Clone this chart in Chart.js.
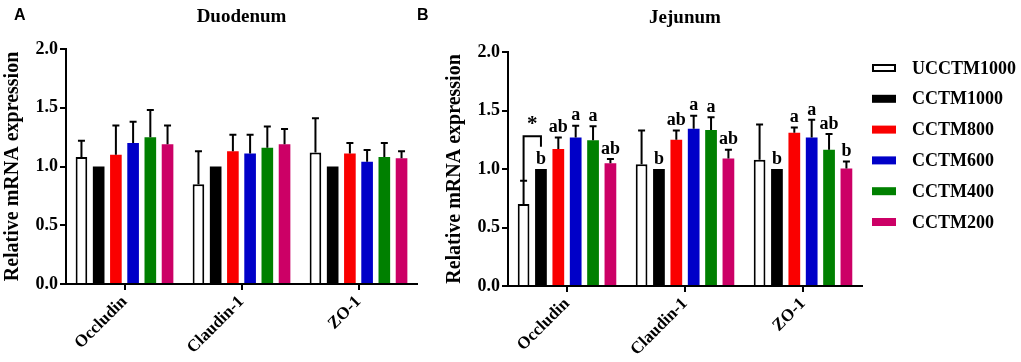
<!DOCTYPE html>
<html>
<head>
<meta charset="utf-8">
<script src="https://cdn.jsdelivr.net/npm/chart.js@4"></script>
<style>
  html, body { margin: 0; padding: 0; background: #fff; }
  #wrap { position: relative; width: 1021px; height: 362px; overflow: hidden; }
  .panel { position: absolute; top: 0; height: 362px; }
  #boxA { left: 0; width: 420px; }
  #boxB { left: 420px; width: 601px; }
  .tag { position: absolute; top: 6px; font: bold 16px "Liberation Sans", Arial, sans-serif; color: #000; }
</style>
</head>
<body>
<div id="wrap">
  <div class="panel" id="boxA"><canvas id="chartA"></canvas></div>
  <div class="panel" id="boxB"><canvas id="chartB"></canvas></div>
  <div class="tag" style="left:14px">A</div>
  <div class="tag" style="left:417px">B</div>
</div>
<script>
// categories and groups
const genes = ['Occludin', 'Claudin-1', 'ZO-1'];
const groups = ['UCCTM1000', 'CCTM1000', 'CCTM800', 'CCTM600', 'CCTM400', 'CCTM200'];
const groupColors = ['#ffffff', '#000000', '#fa0000', '#0000c8', '#008000', '#cc0066'];

// Duodenum: mean per group (rows follow groups, columns follow genes) and SD
const duoMeans = [
    [1.08, 0.85, 1.12],
    [1.00, 1.00, 1.00],
    [1.10, 1.13, 1.11],
    [1.20, 1.11, 1.04],
    [1.25, 1.16, 1.08],
    [1.19, 1.19, 1.07]
];
const duoErrors = [
    [0.14, 0.28, 0.29],
    [0, 0, 0],
    [0.25, 0.14, 0.09],
    [0.18, 0.16, 0.10],
    [0.23, 0.18, 0.12],
    [0.16, 0.13, 0.06]
];

// Jejunum
const jejMeans = [
    [0.70, 1.04, 1.08],
    [1.00, 1.00, 1.00],
    [1.17, 1.25, 1.31],
    [1.27, 1.345, 1.27],
    [1.245, 1.333, 1.165],
    [1.05, 1.09, 1.005]
];
const jejErrors = [
    [0.20, 0.29, 0.30],
    [0, 0, 0],
    [0.10, 0.08, 0.045],
    [0.10, 0.11, 0.15],
    [0.12, 0.11, 0.135],
    [0.035, 0.075, 0.06]
];
const jejLetters = [
    ['', '', ''],
    ['b', 'b', 'b'],
    ['ab', 'ab', 'a'],
    ['a', 'a', 'a'],
    ['a', 'a', 'ab'],
    ['ab', 'ab', 'b']
];

const yTicks = [0, 0.5, 1.0, 1.5, 2.0];
const serif = '"Liberation Serif", "Times New Roman", serif';

// Draws SD whiskers (upward only) and significance letters
const errorBars = {
    id: 'errorBars',
    afterDatasetsDraw(chart) {
        const ctx = chart.ctx;
        const yScale = chart.scales.y;
        ctx.save();
        ctx.strokeStyle = '#000';
        ctx.fillStyle = '#000';
        ctx.lineWidth = 2;
        ctx.font = 'bold 18px ' + serif;
        ctx.textAlign = 'center';
        ctx.textBaseline = 'bottom';
        chart.data.datasets.forEach((ds, di) => {
            const meta = chart.getDatasetMeta(di);
            meta.data.forEach((bar, i) => {
                let top = bar.y;
                const e = ds.errors ? ds.errors[i] : 0;
                if (e) {
                    top = yScale.getPixelForValue(ds.data[i] + e);
                    ctx.beginPath();
                    ctx.moveTo(bar.x, bar.y);
                    ctx.lineTo(bar.x, top);
                    ctx.moveTo(bar.x - 3.5, top);
                    ctx.lineTo(bar.x + 3.5, top);
                    ctx.stroke();
                }
                if (ds.letters && ds.letters[i]) {
                    ctx.fillText(ds.letters[i], bar.x, top - 1);
                }
            });
        });
        ctx.restore();
    }
};

// Title centred over the plot area
const panelTitle = {
    id: 'panelTitle',
    afterDraw(chart, args, opts) {
        if (!opts.text) return;
        const ctx = chart.ctx;
        const area = chart.chartArea;
        ctx.save();
        ctx.fillStyle = '#000';
        ctx.font = 'bold 19px ' + serif;
        ctx.textAlign = 'center';
        ctx.textBaseline = 'middle';
        ctx.fillText(opts.text, (area.left + area.right) / 2, opts.y);
        ctx.restore();
    }
};

// Significance bracket between two bars of one gene
const bracket = {
    id: 'bracket',
    afterDatasetsDraw(chart, args, opts) {
        if (!opts.mark) return;
        const ctx = chart.ctx;
        const yScale = chart.scales.y;
        const dsA = chart.data.datasets[opts.from];
        const barA = chart.getDatasetMeta(opts.from).data[opts.gene];
        const barB = chart.getDatasetMeta(opts.to).data[opts.gene];
        const yLeft = yScale.getPixelForValue(dsA.data[opts.gene] + dsA.errors[opts.gene]);
        const yTop = yScale.getPixelForValue(opts.top);
        const yRight = yScale.getPixelForValue(opts.end);
        ctx.save();
        ctx.strokeStyle = '#000';
        ctx.lineWidth = 2;
        ctx.beginPath();
        ctx.moveTo(barA.x, yLeft);
        ctx.lineTo(barA.x, yTop);
        ctx.lineTo(barB.x, yTop);
        ctx.lineTo(barB.x, yRight);
        ctx.stroke();
        ctx.fillStyle = '#000';
        ctx.font = 'bold 21px ' + serif;
        ctx.textAlign = 'center';
        ctx.textBaseline = 'bottom';
        ctx.fillText(opts.mark, (barA.x + barB.x) / 2, yTop - 1);
        ctx.restore();
    }
};

// Legend column to the right of the plot area, one row per dataset
const sideLegend = {
    id: 'sideLegend',
    afterDraw(chart, args, opts) {
        if (!opts.display) return;
        const ctx = chart.ctx;
        const x = chart.chartArea.right + opts.gap;
        ctx.save();
        ctx.font = 'bold 18px ' + serif;
        ctx.textAlign = 'left';
        ctx.textBaseline = 'middle';
        chart.data.datasets.forEach((ds, i) => {
            const y = opts.top + i * opts.spacing;
            ctx.fillStyle = ds.backgroundColor;
            ctx.fillRect(x, y - 4, 24, 8);
            if (ds.borderWidth) {
                ctx.strokeStyle = ds.borderColor;
                ctx.lineWidth = ds.borderWidth;
                ctx.strokeRect(x + 1, y - 3, 22, 6);
            }
            ctx.fillStyle = '#000';
            ctx.fillText(ds.label, x + 40, y + 1);
        });
        ctx.restore();
    }
};

function makeDatasets(means, errors, letters) {
    return groups.map((g, i) => ({
        label: g,
        data: means[i],
        errors: errors[i],
        letters: letters ? letters[i] : null,
        backgroundColor: groupColors[i],
        borderColor: '#000000',
        borderWidth: i === 0 ? 2 : 0
    }));
}

function makeOptions(title, titleY, top, bottom, padLeft, padRight) {
    return {
        responsive: true,
        maintainAspectRatio: false,
        animation: false,
        layout: { padding: { top: top, left: padLeft, right: padRight, bottom: 0 } },
        datasets: { bar: { categoryPercentage: 0.883, barPercentage: 0.676 } },
        scales: {
            x: {
                grid: { drawOnChartArea: false, drawTicks: true, tickLength: 6, offset: false, color: '#000', lineWidth: 2 },
                border: { color: '#000', width: 2 },
                ticks: {
                    color: '#000', autoSkip: false, minRotation: 45, maxRotation: 45, padding: 2,
                    font: { family: serif, weight: 'bold', size: 17 }
                },
                afterFit: s => { s.height = 362 - bottom; }
            },
            y: {
                min: 0,
                max: 2,
                afterBuildTicks: s => { s.ticks = yTicks.map(v => ({ value: v })); },
                grid: { drawOnChartArea: false, drawTicks: true, tickLength: 6, color: '#000', lineWidth: 2 },
                border: { color: '#000', width: 2 },
                ticks: {
                    color: '#000', padding: 2,
                    font: { family: serif, weight: 'bold', size: 18 },
                    callback: v => Number(v).toFixed(1)
                },
                title: {
                    display: true,
                    text: 'Relative mRNA expression',
                    color: '#000',
                    padding: { top: 1, bottom: 1 },
                    font: { family: serif, weight: 'bold', size: 20 }
                },
                afterFit: s => { s.width = 66; }
            }
        },
        plugins: {
            tooltip: { enabled: false },
            legend: { display: false },
            panelTitle: { text: title, y: titleY }
        }
    };
}

const chartA = new Chart(document.getElementById('chartA'), {
    type: 'bar',
    data: { labels: genes, datasets: makeDatasets(duoMeans, duoErrors, null) },
    options: makeOptions('Duodenum', 17, 49, 284, 0, 3),
    plugins: [errorBars, panelTitle]
});

const optsB = makeOptions('Jejunum', 18, 52, 286, 22, 159);
optsB.plugins.bracket = { gene: 0, from: 0, to: 1, top: 1.28, end: 1.19, mark: '*' };
optsB.plugins.sideLegend = { display: true, gap: 10, top: 68, spacing: 30.8 };
const chartB = new Chart(document.getElementById('chartB'), {
    type: 'bar',
    data: { labels: genes, datasets: makeDatasets(jejMeans, jejErrors, jejLetters) },
    options: optsB,
    plugins: [errorBars, panelTitle, bracket, sideLegend]
});
</script>
</body>
</html>
